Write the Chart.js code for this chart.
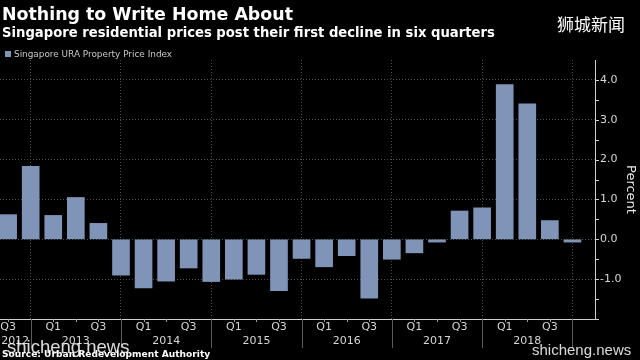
<!DOCTYPE html>
<html><head><meta charset="utf-8">
<script src="https://cdn.jsdelivr.net/npm/chart.js@4.4.1/dist/chart.umd.min.js"></script>
<style>
html,body{margin:0;padding:0;background:#000;}
#wrap{position:relative;width:640px;height:360px;overflow:hidden;background:#000;}
#c{position:absolute;left:0;top:0;}
.t{position:absolute;white-space:nowrap;line-height:1;}
#title{left:2px;top:4px;font:bold 17.4px "DejaVu Sans",sans-serif;color:#fff;}
#sub{left:2px;top:25px;font:bold 13.2px "DejaVu Sans",sans-serif;color:#fff;}
#cn{left:557px;top:11px;font:17px "Noto Sans CJK SC",sans-serif;color:#fff;}
#legend{left:5px;top:49px;font:8.9px "DejaVu Sans",sans-serif;color:#c8c8c8;}
#legend span{display:inline-block;width:6px;height:6px;background:#7f94b7;margin-right:3px;vertical-align:0px;}
#source{left:2px;top:349px;font:bold 9.1px "DejaVu Sans",sans-serif;color:#fff;}
#wm1{left:7px;top:336px;font:18.5px "Liberation Sans",sans-serif;color:rgba(255,255,255,0.85);}
#wm2{left:532px;top:341px;font:15px "Liberation Sans",sans-serif;color:rgba(255,255,255,0.85);}
</style></head><body>
<div id="wrap">
<canvas id="c" width="640" height="360"></canvas>
<div class="t" id="title">Nothing to Write Home About</div>
<div class="t" id="sub">Singapore residential prices post their first decline in six quarters</div>
<div class="t" id="cn">狮城新闻</div>
<div class="t" id="legend"><span></span>Singapore URA Property Price Index</div>
<div class="t" id="wm1">shicheng.news</div>
<div class="t" id="source">Source: Urban Redevelopment Authority</div>
<div class="t" id="wm2">shicheng.news</div>
</div>
<script>
// ---- data ----
const categories = ['2012 Q3','2012 Q4',
  '2013 Q1','2013 Q2','2013 Q3','2013 Q4',
  '2014 Q1','2014 Q2','2014 Q3','2014 Q4',
  '2015 Q1','2015 Q2','2015 Q3','2015 Q4',
  '2016 Q1','2016 Q2','2016 Q3','2016 Q4',
  '2017 Q1','2017 Q2','2017 Q3','2017 Q4',
  '2018 Q1','2018 Q2','2018 Q3','2018 Q4'];
const priceIndexChange = [0.62, 1.83,
  0.6, 1.05, 0.4, -0.9,
  -1.22, -1.05, -0.72, -1.06,
  -1.0, -0.88, -1.29, -0.48,
  -0.69, -0.41, -1.48, -0.5,
  -0.34, -0.07, 0.71, 0.79,
  3.88, 3.4, 0.47, -0.07];
const quarterTickLabels = ['Q3','',
  'Q1','','Q3','',
  'Q1','','Q3','',
  'Q1','','Q3','',
  'Q1','','Q3','',
  'Q1','','Q3','',
  'Q1','','Q3',''];
const yearTickLabels = ['2012','',
  '','2013','','',
  '','2014','','',
  '','2015','','',
  '','2016','','',
  '','2017','','',
  '','2018','',''];
const yTickValues = [-2,-1.5,-1,-0.5,0,0.5,1,1.5,2,2.5,3,3.5,4];
const yLabelValues = [-1,0,1,2,3,4];
const seriesName = 'Singapore URA Property Price Index';

const isYearEnd = i => categories[i] && categories[i].endsWith('Q4');
const TRANSPARENT = 'rgba(0,0,0,0)';
const GRID = '#4d4d4d';

// first year label sits at the canvas edge: pad it so it stays visible
const yearLine = i => (i === 0 && yearTickLabels[i]) ? '\u2007\u2007' + yearTickLabels[i] : yearTickLabels[i];

const axisMarks = {
  id: 'axisMarks',
  afterDraw(chart) {
    const {ctx, scales: {x, y}, chartArea} = chart;
    ctx.save();
    ctx.lineWidth = 1;
    ctx.strokeStyle = '#cfcfcf';
    y.ticks.forEach(t => {
      const py = Math.round(y.getPixelForValue(t.value)) + 0.5;
      ctx.beginPath(); ctx.moveTo(chartArea.right, py); ctx.lineTo(chartArea.right + 4, py); ctx.stroke();
    });
    x.ticks.forEach(t => {
      const px = Math.round(x.getPixelForValue(t.value)) + 0.5;
      const long = isYearEnd(t.value);
      ctx.strokeStyle = long ? '#5a5a5a' : '#9a9a9a';
      ctx.beginPath(); ctx.moveTo(px, chartArea.bottom); ctx.lineTo(px, chartArea.bottom + (long ? 29 : 3)); ctx.stroke();
    });
    ctx.restore();
  }
};

new Chart(document.getElementById('c'), {
  type: 'bar',
  data: {
    datasets: [{
      label: seriesName,
      data: priceIndexChange.map((v, i) => ({x: i, y: v})),
      backgroundColor: '#7f94b7',
      borderWidth: 0,
      barThickness: 17
    }]
  },
  plugins: [axisMarks],
  options: {
    responsive: false,
    animation: false,
    layout: {padding: {top: 60, left: 0, right: 0, bottom: 0}},
    plugins: {legend: {display: false}, tooltip: {enabled: false}},
    scales: {
      x: {
        type: 'linear', min: -0.36, max: 26, offset: false,
        afterBuildTicks: s => { s.ticks = categories.map((_, i) => ({value: i})); },
        afterFit: s => { s.height = 41; s.paddingLeft = 0; s.paddingRight = 0; },
        ticks: {
          autoSkip: false, maxRotation: 0, minRotation: 0, padding: 2,
          color: '#d6d6d6', font: {family: 'DejaVu Sans', size: 11, lineHeight: 1.2},
          callback: v => [quarterTickLabels[v], yearLine(v)]
        },
        grid: {drawTicks: false, lineWidth: 1, offset: false,
          color: c => (c.tick && isYearEnd(c.tick.value)) ? GRID : TRANSPARENT},
        border: {display: true, color: '#d0d0d0', width: 1, dash: [1, 2]}
      },
      y: {
        position: 'right', min: -2, max: 4.5,
        afterBuildTicks: s => { s.ticks = yTickValues.map(v => ({value: v})); },
        afterFit: s => { s.width = 45; s.paddingTop = 0; s.paddingBottom = 0; },
        ticks: {
          padding: 5, color: '#d6d6d6', font: {family: 'DejaVu Sans', size: 11},
          callback: v => yLabelValues.includes(v) ? v.toFixed(1) : ''
        },
        grid: {drawTicks: false, lineWidth: 1,
          color: c => (c.tick && yLabelValues.includes(c.tick.value)) ? GRID : TRANSPARENT},
        border: {display: true, color: '#d0d0d0', width: 1, dash: [1, 2]},
        title: {display: true, text: 'Percent', color: '#e8e8e8',
          font: {family: 'DejaVu Sans', size: 13}, padding: {top: 2, bottom: 0}}
      }
    }
  }
});
</script>
</body></html>
